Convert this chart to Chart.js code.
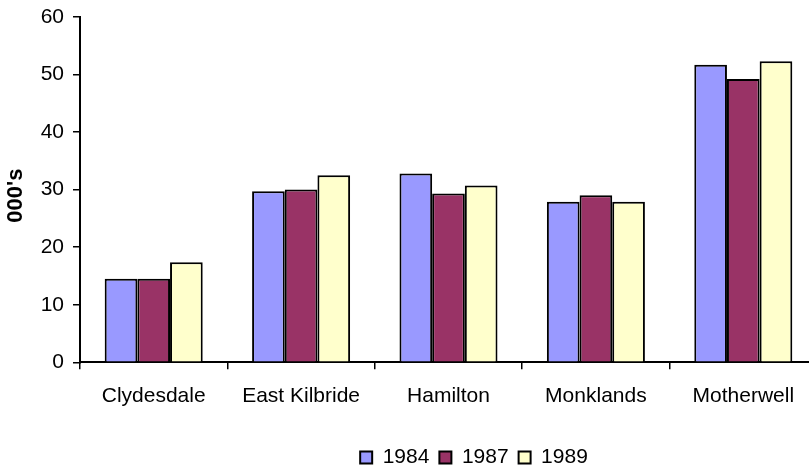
<!DOCTYPE html>
<html>
<head>
<meta charset="utf-8">
<script src="https://cdn.jsdelivr.net/npm/chart.js@4"></script>
<style>
  html, body { margin: 0; padding: 0; background: #fff; overflow: hidden; }
  #wrap { width: 830px; height: 465px; }
</style>
</head>
<body>
<div id="wrap"><canvas id="chart" width="830" height="465"></canvas></div>
<script>
// Districts and thousands per year
const districts = ['Clydesdale', 'East Kilbride', 'Hamilton', 'Monklands', 'Motherwell'];
const years = ['1984', '1987', '1989'];
const values1984 = [14.5, 29.7, 32.8, 27.9, 51.7];
const values1987 = [14.5, 30.0, 29.3, 29.0, 49.2];
const values1989 = [17.4, 32.5, 30.7, 27.9, 52.3];
const yTicks = [0, 10, 20, 30, 40, 50, 60];
const axisTitle = "000's";

const colors = ['#9999FF', '#993366', '#FFFFCC'];
const seriesValues = [values1984, values1987, values1989];

const FONT = 'Liberation Sans, Arial, sans-serif';

// Moves the bottom legend so it sits centred under the plot, a little lower
const legendShift = {
  id: 'legendShift',
  afterLayout(chart, args, opts) {
    const lg = chart.legend;
    if (!lg) return;
    lg.left += opts.dx; lg.right += opts.dx;
    lg.top += opts.dy; lg.bottom += opts.dy;
  }
};

new Chart(document.getElementById('chart'), {
  type: 'bar',
  data: {
    labels: districts,
    datasets: years.map((y, i) => ({
      label: y,
      data: seriesValues[i],
      backgroundColor: colors[i],
      borderColor: '#000',
      borderWidth: 2,
      categoryPercentage: 0.665,
      barPercentage: 1.0
    }))
  },
  options: {
    responsive: false,
    animation: false,
    layout: { padding: { left: 0, right: 13, top: 0, bottom: 1.5 } },
    plugins: {
      tooltip: { enabled: false },
      legendShift: { dx: 65.5, dy: 14.5 },
      legend: {
        position: 'bottom',
        labels: {
          color: '#000',
          font: { family: FONT, size: 21 },
          boxWidth: 12,
          boxHeight: 12,
          padding: 10
        }
      }
    },
    scales: {
      x: {
        offset: true,
        grid: {
          display: true,
          offset: true,
          drawOnChartArea: false,
          drawTicks: true,
          tickLength: 7,
          color: '#000',
          lineWidth: 1.5
        },
        border: { display: true, color: '#000', width: 2 },
        ticks: {
          color: '#000',
          font: { family: FONT, size: 21 },
          padding: 14,
          maxRotation: 0,
          autoSkip: false
        }
      },
      y: {
        min: 0,
        max: 60,
        afterBuildTicks(scale) { scale.ticks = yTicks.map(v => ({ value: v })); },
        afterFit(scale) { scale.width = 80; },
        grid: {
          display: true,
          drawOnChartArea: false,
          drawTicks: true,
          tickLength: 7,
          color: '#000',
          lineWidth: 1.5
        },
        border: { display: true, color: '#000', width: 2 },
        ticks: {
          color: '#000',
          font: { family: FONT, size: 21, lineHeight: 0.75 },
          padding: 9
        },
        title: {
          display: true,
          // two trailing blanks push the rotated caption slightly below centre
          text: axisTitle + '  ',
          color: '#000',
          font: { family: FONT, size: 22, weight: 'bold' },
          padding: { top: 3, bottom: 0 }
        }
      }
    }
  },
  plugins: [legendShift]
});
</script>
</body>
</html>
